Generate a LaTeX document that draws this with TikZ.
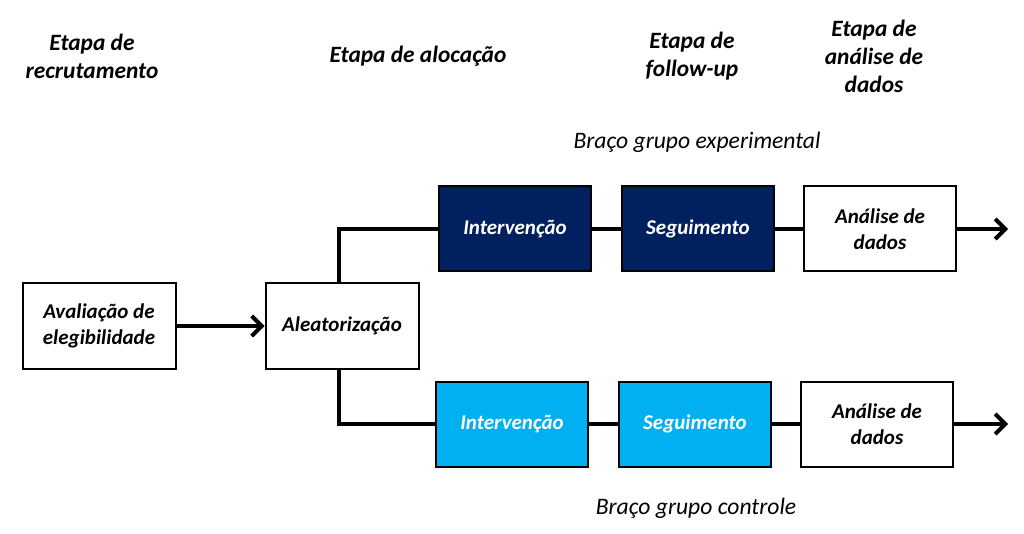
\documentclass[tikz,border=0pt]{standalone}
\usepackage{fontspec}
\setmainfont{Carlito}
\usetikzlibrary{arrows.meta}
\definecolor{navy}{HTML}{002060}
\definecolor{lightblue}{HTML}{00B0F0}
\tikzset{
  box/.style={draw=black, line width=2pt, minimum width=152pt, minimum height=85pt, inner sep=0pt, align=center, font=\fontsize{21}{26}\selectfont\bfseries\itshape},
  darkbox/.style={box, fill=navy, text=white},
  lightbox/.style={box, fill=lightblue, text=white},
  whitebox/.style={box, fill=white, text=black},
  header/.style={align=center, font=\fontsize{23.4}{28}\selectfont\bfseries\itshape},
  arm/.style={font=\fontsize{23.6}{28}\selectfont\itshape},
  conn/.style={line width=4pt},
  arr/.style={line width=4pt, -{Straight Barb[length=10pt, width=20pt, line width=4pt]}}
}
\begin{document}
\begin{tikzpicture}[x=1pt,y=1pt]
\useasboundingbox (0,0) rectangle (1024,-534);
\fill[white] (0,0) rectangle (1024,-534);
% headers
\node[header] (h1) at (92,-56) {Etapa de\\recrutamento};
\node[header] (h2) at (418,-56) {Etapa de alocação};
\node[header] (h3) at (692,-56) {Etapa de\\follow-up};
\node[header] (h4) at (874,-56) {Etapa de\\análise de\\dados};
\node[arm] (a1) at (697,-142) {Braço grupo experimental};
\node[arm] (a2) at (696,-508) {Braço grupo controle};
% boxes
\node[whitebox, minimum width=153pt] (aval) at (99,-326) {Avaliação de\\elegibilidade};
\node[whitebox, minimum width=153pt] (alea) at (342,-326) {\raisebox{-2pt}{Aleatorização}};
\node[darkbox] (i1) at (515,-229) {\raisebox{-2pt}{Intervenção}};
\node[darkbox] (s1) at (698,-229) {\raisebox{-2pt}{Seguimento}};
\node[whitebox] (d1) at (880,-229) {Análise de\\dados};
\node[lightbox] (i2) at (512,-424) {\raisebox{-2pt}{Intervenção}};
\node[lightbox] (s2) at (695,-424) {\raisebox{-2pt}{Seguimento}};
\node[whitebox] (d2) at (877,-424) {Análise de\\dados};
\coordinate (e1) at (1008,-229);
\coordinate (e2) at (1008,-424);
% connectors
\draw[arr] (aval.east) -- (alea.west);
\draw[conn] ([xshift=-3pt]alea.north) |- (i1.west);
\draw[conn] ([xshift=-3pt]alea.south) |- (i2.west);
\draw[conn] (i1.east) -- (s1.west);
\draw[conn] (s1.east) -- (d1.west);
\draw[conn] (i2.east) -- (s2.west);
\draw[conn] (s2.east) -- (d2.west);
\draw[arr] (d1.east) -- (e1);
\draw[arr] (d2.east) -- (e2);
\end{tikzpicture}
\end{document}
